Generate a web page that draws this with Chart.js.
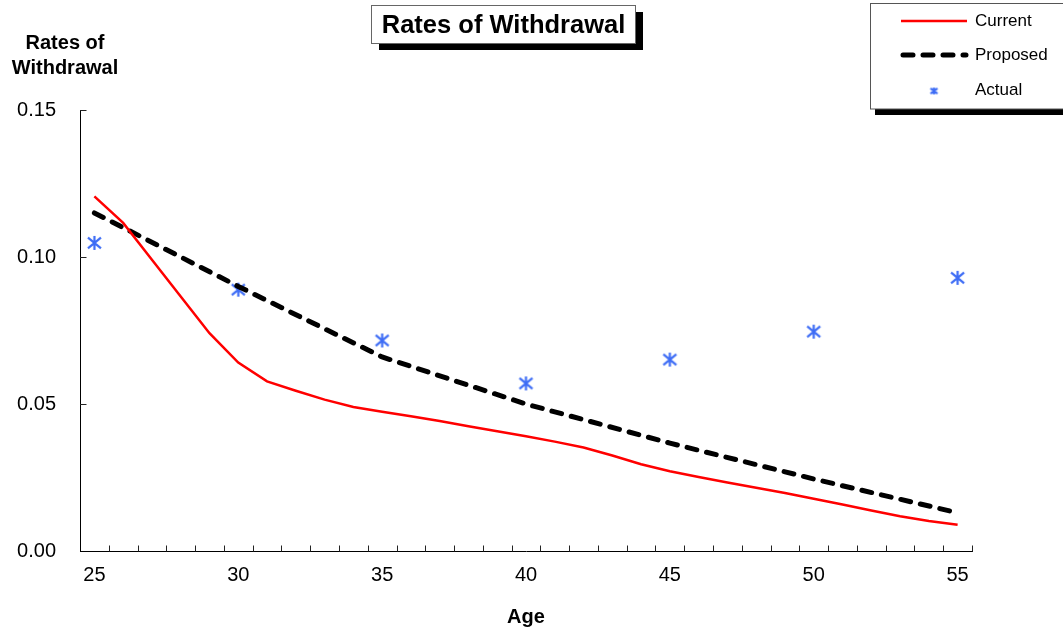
<!DOCTYPE html>
<html>
<head>
<meta charset="utf-8">
<script src="https://cdn.jsdelivr.net/npm/chart.js@4.4.1/dist/chart.umd.min.js"></script>
<style>
  html, body { margin: 0; padding: 0; background: #ffffff; }
  #wrap { position: relative; width: 1063px; height: 634px; }
</style>
</head>
<body>
<div id="wrap"><canvas id="c" width="1063" height="634"></canvas></div>
<script>
// ---- data ----
const ages = [25,26,27,28,29,30,31,32,33,34,35,36,37,38,39,40,41,42,43,44,45,46,47,48,49,50,51,52,53,54,55];
const currentRates = [0.1206,0.1116,0.0991,0.0866,0.0741,0.0641,0.0577,0.0545,0.0515,0.0490,
                      0.0474,0.0458,0.0442,0.0424,0.0407,0.0390,0.0372,0.0352,0.0325,0.0295,
                      0.0271,0.0252,0.0233,0.0215,0.0197,0.0178,0.0158,0.0138,0.0118,0.0102,0.0089];
const proposedRates = [0.115,null,null,null,null,0.090,null,null,null,null,
                       0.066,null,null,null,null,0.050,null,null,null,null,
                       0.0367,null,null,null,null,0.0245,null,null,null,null,0.013];
const actualRates = [0.1048,null,null,null,null,0.0889,null,null,null,null,
                     0.0716,null,null,null,null,0.0570,null,null,null,null,
                     0.0651,null,null,null,null,0.0746,null,null,null,null,0.0929];
const yTickValues = [0, 0.05, 0.10, 0.15];
const seriesNames = ['Current', 'Proposed', 'Actual'];
const chartTitle = 'Rates of Withdrawal';
const yTitleLines = ['Rates of', 'Withdrawal'];
const xTitle = 'Age';

const FONT = '"Liberation Sans", Arial, Helvetica, sans-serif';
const BLUE = '#3d6cf5';

function makeStar(w, h, lw) {
  const cv = document.createElement('canvas');
  cv.width = w + 4; cv.height = h + 4;
  const g = cv.getContext('2d');
  const cx = cv.width / 2, cy = cv.height / 2;
  g.strokeStyle = BLUE; g.lineWidth = lw; g.lineCap = 'butt';
  g.beginPath();
  g.moveTo(cx, cy - h / 2); g.lineTo(cx, cy + h / 2);
  g.moveTo(cx - w / 2, cy - h * 0.38); g.lineTo(cx + w / 2, cy + h * 0.38);
  g.moveTo(cx - w / 2, cy + h * 0.38); g.lineTo(cx + w / 2, cy - h * 0.38);
  g.stroke();
  return cv;
}
const starBig = makeStar(13, 14, 2.2);
const starSmall = makeStar(7, 7, 2);

const decor = {
  id: 'decor',
  afterDraw(chart) {
    const ctx = chart.ctx;
    const xs = chart.scales.x, ys = chart.scales.y;
    const ca = chart.chartArea;
    ctx.save();
    // inward tick marks
    ctx.strokeStyle = '#222'; ctx.lineWidth = 1;
    ctx.beginPath();
    const w = xs.getPixelForValue(1) - xs.getPixelForValue(0);
    for (let i = 0; i < ages.length; i++) {
      const x = Math.round(xs.getPixelForValue(i) + w / 2) + 0.5;
      ctx.moveTo(x, Math.round(ca.bottom) + 0.5);
      ctx.lineTo(x, Math.round(ca.bottom) - 5.5);
    }
    yTickValues.forEach(v => {
      if (v === 0) return;
      const y = Math.round(ys.getPixelForValue(v)) + 0.5;
      ctx.moveTo(Math.round(ca.left), y);
      ctx.lineTo(Math.round(ca.left) + 6.5, y);
    });
    ctx.stroke();

    // title box with shadow
    ctx.fillStyle = '#000';
    ctx.fillRect(379, 12, 264, 38);
    ctx.fillStyle = '#fff';
    ctx.fillRect(371.5, 5.5, 264, 38);
    ctx.strokeStyle = '#666';
    ctx.strokeRect(371.5, 5.5, 264, 38);
    ctx.fillStyle = '#000';
    ctx.font = 'bold 25.5px ' + FONT;
    ctx.textAlign = 'center'; ctx.textBaseline = 'alphabetic';
    ctx.fillText(chartTitle, 503.5, 33);

    // y title
    ctx.font = 'bold 20px ' + FONT;
    ctx.fillText(yTitleLines[0], 65, 49);
    ctx.fillText(yTitleLines[1], 65, 74);
    // x title
    ctx.fillText(xTitle, (ca.left + ca.right) / 2, 623);

    // legend
    ctx.fillStyle = '#000';
    ctx.fillRect(875, 109, 200, 6);
    ctx.fillStyle = '#fff';
    ctx.fillRect(870.5, 3.5, 200, 105.5);
    ctx.strokeStyle = '#555';
    ctx.strokeRect(870.5, 3.5, 200, 105.5);
    // current sample
    ctx.strokeStyle = '#ff0000'; ctx.lineWidth = 2.5;
    ctx.beginPath(); ctx.moveTo(901, 21); ctx.lineTo(967, 21); ctx.stroke();
    // proposed sample
    ctx.strokeStyle = '#000'; ctx.lineWidth = 5; ctx.lineCap = 'round';
    ctx.setLineDash([10, 10]);
    ctx.beginPath(); ctx.moveTo(903, 55); ctx.lineTo(966, 55); ctx.stroke();
    ctx.setLineDash([]); ctx.lineCap = 'butt';
    // actual sample
    ctx.drawImage(starSmall, 934 - starSmall.width / 2, 91 - starSmall.height / 2);
    ctx.fillStyle = '#000';
    ctx.font = '17px ' + FONT;
    ctx.textAlign = 'left'; ctx.textBaseline = 'middle';
    ctx.fillText(seriesNames[0], 975, 21);
    ctx.fillText(seriesNames[1], 975, 55);
    ctx.fillText(seriesNames[2], 975, 90);
    ctx.restore();
  }
};

new Chart(document.getElementById('c'), {
  type: 'line',
  data: {
    labels: ages.map(String),
    datasets: [
      { label: seriesNames[0], data: currentRates, borderColor: '#ff0000', borderWidth: 2.5,
        pointRadius: 0, tension: 0, fill: false },
      { label: seriesNames[1], data: proposedRates, borderColor: '#000000', borderWidth: 5,
        borderDash: [10, 10], borderCapStyle: 'round', pointRadius: 0, tension: 0,
        spanGaps: true, fill: false },
      { label: seriesNames[2], data: actualRates, showLine: false, pointStyle: starBig,
        pointRadius: 7, borderColor: BLUE, backgroundColor: BLUE }
    ]
  },
  options: {
    responsive: false,
    animation: false,
    devicePixelRatio: 1,
    layout: { padding: { top: 110, right: 91, left: 0, bottom: 0 } },
    plugins: { legend: { display: false }, title: { display: false }, tooltip: { enabled: false } },
    scales: {
      x: {
        type: 'category',
        offset: true,
        grid: { display: false, offset: true },
        border: { display: true, color: '#000', width: 1 },
        ticks: {
          autoSkip: false, maxRotation: 0, minRotation: 0, padding: 4,
          color: '#000', font: { family: FONT, size: 20 },
          callback: (v, i) => (ages[i] % 5 === 0 ? String(ages[i]) : '')
        },
        afterFit: s => { s.height = 83; }
      },
      y: {
        min: 0, max: 0.15,
        grid: { display: false, drawTicks: false },
        border: { display: true, color: '#000', width: 1 },
        afterBuildTicks: s => { s.ticks = yTickValues.map(v => ({ value: v })); },
        ticks: {
          padding: 24, color: '#000', font: { family: FONT, size: 20 },
          callback: v => Number(v).toFixed(2)
        },
        afterFit: s => { s.width = 80; }
      }
    }
  },
  plugins: [decor]
});
</script>
</body>
</html>
